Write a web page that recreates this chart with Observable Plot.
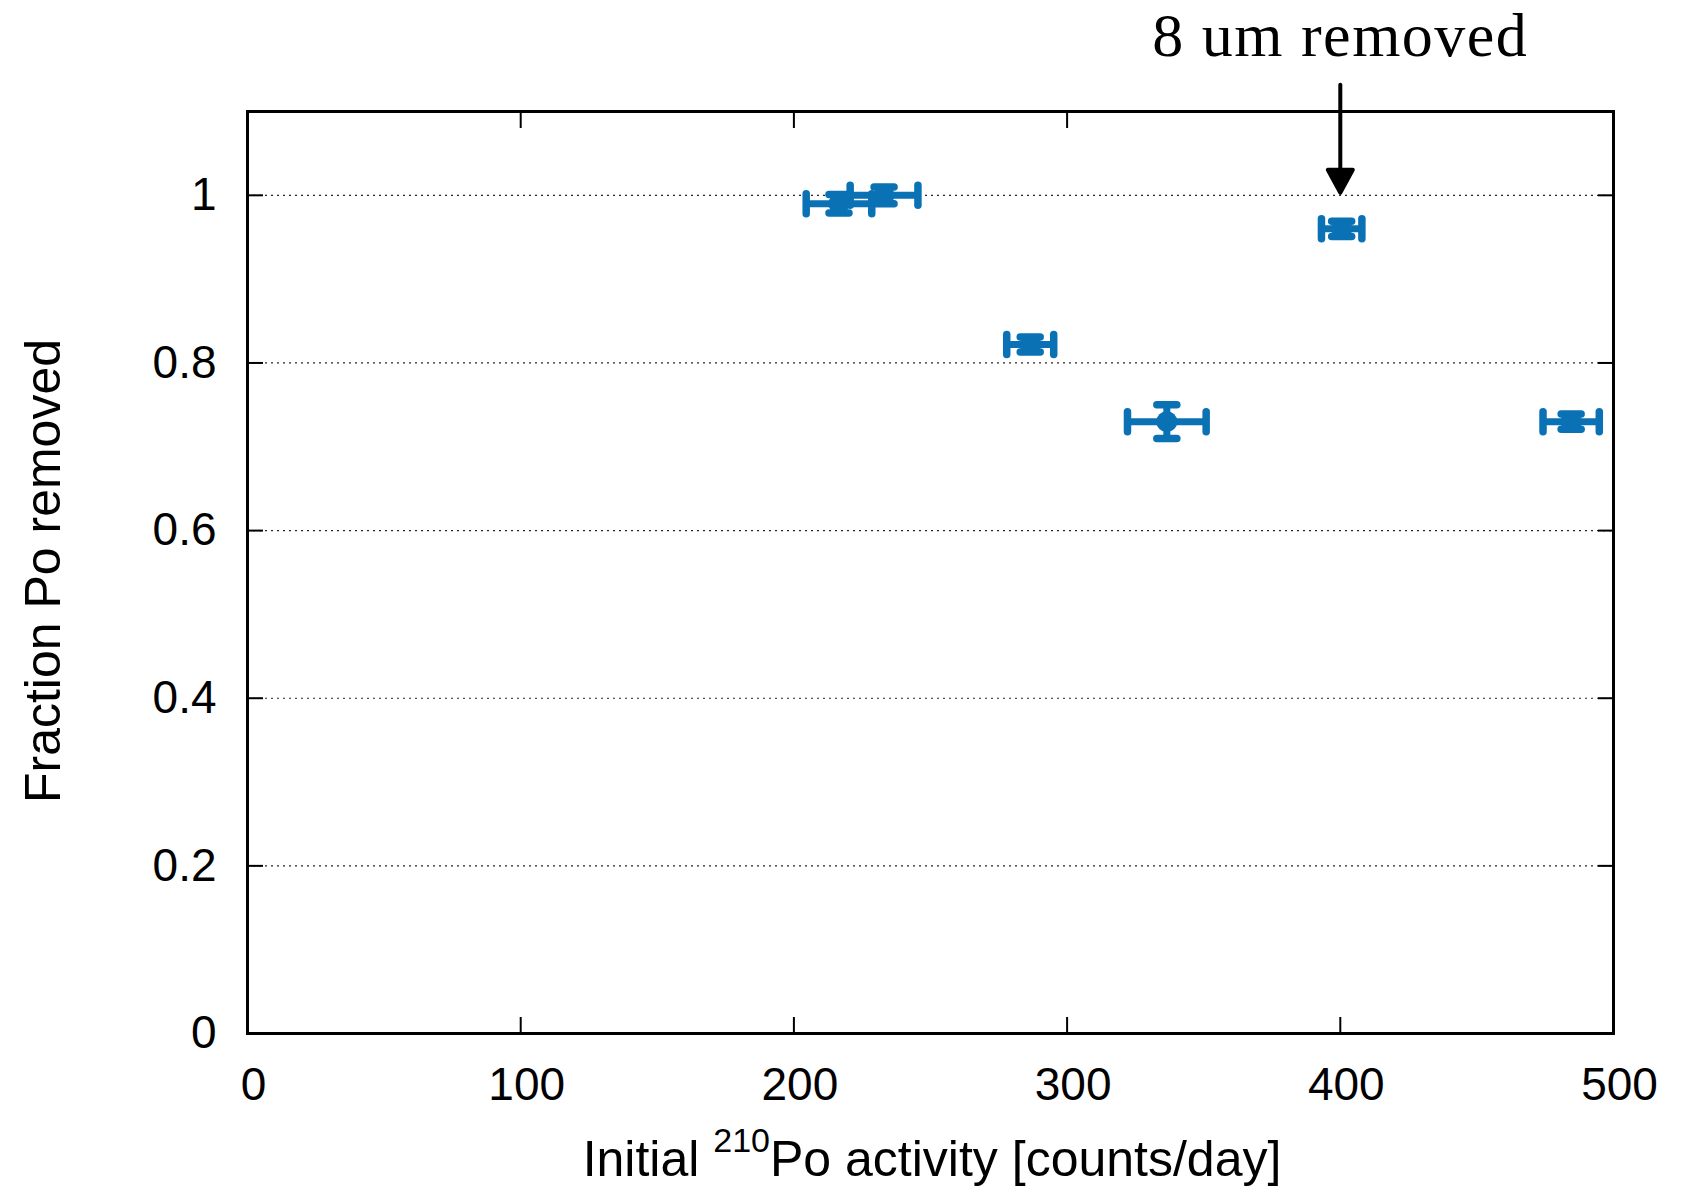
<!DOCTYPE html>
<html><head><meta charset="utf-8">
<script src="https://cdn.jsdelivr.net/npm/d3@7"></script>
<script src="https://cdn.jsdelivr.net/npm/@observablehq/plot@0.6"></script>
<style>body{margin:0;background:#fff} #chart{width:1690px;height:1188px}</style>
</head><body><div id="chart"></div>
<script>
// Data
const activity    = [216.5, 233, 286.5, 336.5, 400.5, 484.5];
const activityErr = [12, 12.4, 8.6, 14.4, 7.4, 10.3];
const fraction    = [0.99, 1.0, 0.822, 0.730, 0.960, 0.730];
const fractionErr = [0.011, 0.01, 0.009, 0.02, 0.009, 0.009];

const xTicks = [0, 100, 200, 300, 400, 500];
const yTicks = [0, 0.2, 0.4, 0.6, 0.8, 1];
const gridValues = [0.2, 0.4, 0.6, 0.8, 1];

// annotation
const annotLabel = ["8 um removed"];
const annotX = [400];
const annotTip = [1.003];
const annotTop = [1.132];
const annotTextY = [1.1895];

const blue = "#0a72b4";
const W = 1690, H = 1188;
const mL = 247, mR = 77, mT = 111, mB = 155;
const yDomain = [0, 1.1];

const data = activity.map((x, i) => ({x, xe: activityErr[i], y: fraction[i], ye: fractionErr[i]}));
const annot = annotLabel.map((t, i) => ({t, x: annotX[i], tip: annotTip[i], top: annotTop[i], ty: annotTextY[i]}));

const pxPerUnit = (H - mT - mB) / (yDomain[1] - yDomain[0]);
const arrowLen = (annotTop[0] - annotTip[0]) * pxPerUnit;

const capShape = {draw(ctx, l) { ctx.moveTo(0, 0); ctx.lineTo(0, -l); }};
const headLen = 23, headW = 25;
const arrowShape = {draw(ctx, l) {
  ctx.moveTo(0, 0); ctx.lineTo(0, -l + headLen);
  ctx.moveTo(-headW / 2, -l + headLen);
  ctx.lineTo(0, -l);
  ctx.lineTo(headW / 2, -l + headLen);
  ctx.closePath();
}};

const capLen = 20, barW = 7, capW = 7.5;
const sans = "'Liberation Sans', Arial, Helvetica, sans-serif";

const chart = Plot.plot({
  width: W, height: H,
  marginLeft: mL, marginRight: mR, marginTop: mT, marginBottom: mB,
  x: {domain: [0, 500]},
  y: {domain: yDomain},
  style: {fontFamily: sans, background: "#fff", color: "black"},
  marks: [
    Plot.gridY(gridValues, {stroke: "black", strokeOpacity: 0.85, strokeWidth: 1.2, strokeDasharray: "2,4"}),
    Plot.axisX(xTicks, {anchor: "bottom", tickSize: -16, tickFormat: () => "", strokeWidth: 2, label: null}),
    Plot.text(xTicks, {x: d => d, text: d => String(d), frameAnchor: "bottom", dy: 34, dx: 6, lineAnchor: "top", fontSize: 46, fill: "black"}),
    Plot.axisX(xTicks, {anchor: "top", tickSize: -16, tickFormat: () => "", strokeWidth: 2, label: null}),
    Plot.axisY(yTicks, {anchor: "left", tickSize: -16, tickPadding: 47, fontSize: 46, strokeWidth: 2, label: null, tickFormat: d => String(d)}),
    Plot.axisY(yTicks, {anchor: "right", tickSize: -16, tickFormat: () => "", strokeWidth: 2, label: null}),
    Plot.frame({stroke: "black", strokeWidth: 3}),
    // horizontal error bars
    Plot.link(data, {x1: d => d.x - d.xe, x2: d => d.x + d.xe, y1: "y", y2: "y", stroke: blue, strokeWidth: barW}),
    Plot.vector(data, {x: d => d.x - d.xe, y: "y", length: capLen, rotate: 0, anchor: "middle", shape: capShape, stroke: blue, strokeWidth: capW}),
    Plot.vector(data, {x: d => d.x + d.xe, y: "y", length: capLen, rotate: 0, anchor: "middle", shape: capShape, stroke: blue, strokeWidth: capW}),
    // vertical error bars
    Plot.link(data, {x1: "x", x2: "x", y1: d => d.y - d.ye, y2: d => d.y + d.ye, stroke: blue, strokeWidth: barW}),
    Plot.vector(data, {x: "x", y: d => d.y - d.ye, length: capLen, rotate: 90, anchor: "middle", shape: capShape, stroke: blue, strokeWidth: capW}),
    Plot.vector(data, {x: "x", y: d => d.y + d.ye, length: capLen, rotate: 90, anchor: "middle", shape: capShape, stroke: blue, strokeWidth: capW}),
    Plot.dot(data, {x: "x", y: "y", r: 10.5, fill: blue, stroke: null}),
    // annotation arrow + text
    Plot.vector(annot, {x: "x", y: "tip", length: arrowLen, rotate: 180, anchor: "end",
      shape: arrowShape, stroke: "black", fill: "black", strokeWidth: 4}),
    Plot.text(annot, {x: "x", y: "ty", text: "t", fontSize: 62, lineAnchor: "middle",
      fontFamily: "'Liberation Serif', 'Times New Roman', serif", fill: "black"})
  ]
});

const svg = d3.select(chart);
svg.selectAll("text").filter(function() { return this.textContent === "8 um removed"; })
  .style("letter-spacing", "1.5px");

const xs = chart.scale("x");
const xMid = (xs.apply(0) + xs.apply(500)) / 2;
const xl = svg.append("text")
  .attr("x", xMid + 2).attr("y", 1176)
  .attr("text-anchor", "middle")
  .attr("font-family", sans)
  .attr("font-size", 50).attr("fill", "black");
xl.append("tspan").text("Initial ");
xl.append("tspan").attr("font-size", 34).attr("dy", -24).text("210");
xl.append("tspan").attr("dy", 24).text("Po activity [counts/day]");

const ys = chart.scale("y");
const yMid = (ys.apply(0) + ys.apply(1.1)) / 2;
svg.append("text")
  .attr("transform", `translate(60,${yMid - 1}) rotate(-90)`)
  .attr("text-anchor", "middle")
  .attr("font-family", sans)
  .attr("font-size", 50).attr("fill", "black")
  .text("Fraction Po removed");

document.getElementById("chart").appendChild(chart);
</script>
</body></html>
